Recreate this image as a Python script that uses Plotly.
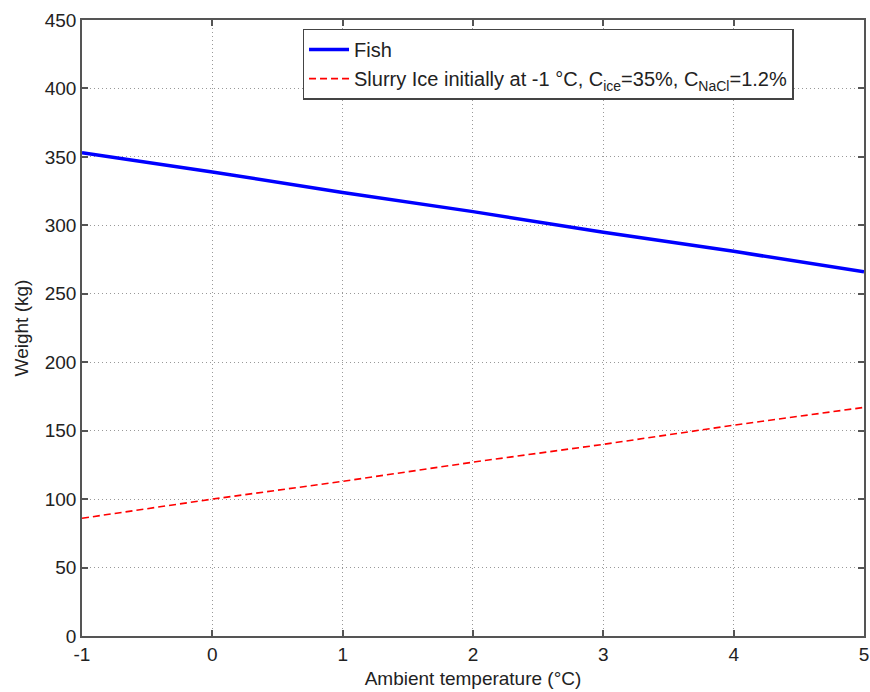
import plotly.graph_objects as go

temps = [-1, 0, 1, 2, 3, 4, 5]
fish_weight = [353, 339, 324, 310, 295, 281, 266]
slurry_weight = [86, 100, 113, 127, 140, 154, 167]
x_ticks = [-1, 0, 1, 2, 3, 4, 5]
x_tick_labels = ["-1", "0", "1", "2", "3", "4", "5"]
y_ticks = [0, 50, 100, 150, 200, 250, 300, 350, 400, 450]

font = dict(family="Liberation Sans, Arial, sans-serif", size=19, color="#222")
legend_font = dict(family="Liberation Sans, Arial, sans-serif", size=20, color="#222")

fig = go.Figure()
fig.add_trace(go.Scatter(x=temps, y=fish_weight, mode="lines", name="Fish",
                         line=dict(color="#0000ff", width=3.5)))
fig.add_trace(go.Scatter(x=temps, y=slurry_weight, mode="lines",
                         name="Slurry Ice initially at -1 °C, C<sub>ice</sub>=35%, C<sub>NaCl</sub>=1.2%",
                         line=dict(color="#ff0000", width=1.6, dash="7px,4px")))

axis_common = dict(showline=True, linecolor="#555", linewidth=1.5, mirror="ticks",
                   ticks="inside", ticklen=6, tickcolor="#555", tickwidth=1.5,
                   showgrid=True, gridcolor="#999", griddash="1px,3px", gridwidth=1,
                   zeroline=False, tickfont=font, automargin=False)

fig.update_layout(
    width=870, height=692,
    margin=dict(l=82, r=6, t=20, b=56),
    paper_bgcolor="white", plot_bgcolor="white",
    font=font,
    xaxis=dict(range=[-1, 5.0001], tickvals=x_ticks, ticktext=x_tick_labels,
               title=dict(text="Ambient temperature (°C)", font=font, standoff=8), **axis_common),
    yaxis=dict(range=[0, 450.0001], tickvals=y_ticks,
               title=dict(text="Weight (kg)", font=font, standoff=11), **axis_common),
    legend=dict(x=0.282, y=0.986, xanchor="left", yanchor="top",
                bgcolor="white", bordercolor="#444", borderwidth=1.5,
                font=legend_font, tracegroupgap=0, itemwidth=40),
    showlegend=True,
)

fig.write_html("out.html", post_script="document.body.style.margin='0';",
               config={"displayModeBar": False})
